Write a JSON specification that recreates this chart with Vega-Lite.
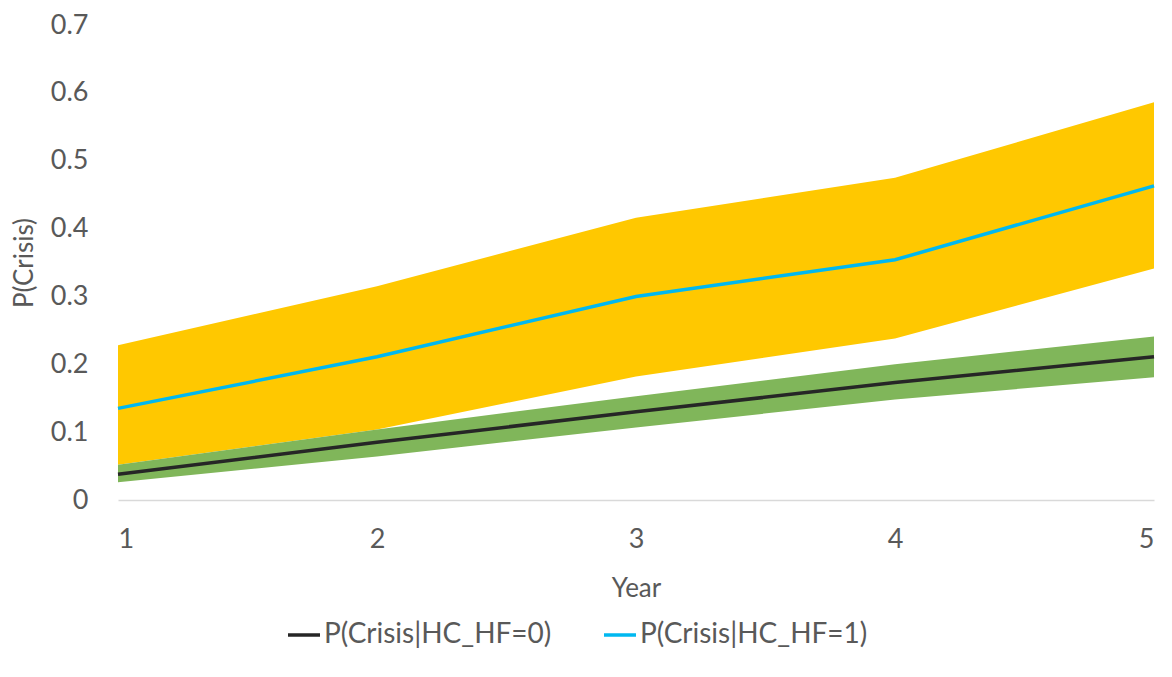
{
  "$schema": "https://vega.github.io/schema/vega-lite/v6.json",
  "width": 1036,
  "height": 475,
  "autosize": "none",
  "padding": {"left": 118, "top": 25, "right": 18, "bottom": 177},
  "background": "white",
  "config": {
    "view": {"stroke": null},
    "font": "Lato",
    "axis": {"labelFont": "Lato", "titleFont": "Lato", "labelColor": "#595959", "titleColor": "#595959", "labelFontSize": 27, "titleFontSize": 26, "titleFontWeight": "normal", "grid": false, "ticks": false},
    "legend": {"labelFont": "Lato", "labelFontSize": 28, "labelColor": "#595959", "labelLimit": 0}
  },
  "data": {
    "values": [
      {"year": 1, "series": "P(Crisis|HC_HF=0)", "mean": 0.038, "lo": 0.026, "hi": 0.052},
      {"year": 2, "series": "P(Crisis|HC_HF=0)", "mean": 0.085, "lo": 0.064, "hi": 0.104},
      {"year": 3, "series": "P(Crisis|HC_HF=0)", "mean": 0.130, "lo": 0.107, "hi": 0.153},
      {"year": 4, "series": "P(Crisis|HC_HF=0)", "mean": 0.173, "lo": 0.148, "hi": 0.200},
      {"year": 5, "series": "P(Crisis|HC_HF=0)", "mean": 0.211, "lo": 0.181, "hi": 0.241},
      {"year": 1, "series": "P(Crisis|HC_HF=1)", "mean": 0.135, "lo": 0.052, "hi": 0.228},
      {"year": 2, "series": "P(Crisis|HC_HF=1)", "mean": 0.211, "lo": 0.104, "hi": 0.315},
      {"year": 3, "series": "P(Crisis|HC_HF=1)", "mean": 0.300, "lo": 0.182, "hi": 0.416},
      {"year": 4, "series": "P(Crisis|HC_HF=1)", "mean": 0.354, "lo": 0.238, "hi": 0.475},
      {"year": 5, "series": "P(Crisis|HC_HF=1)", "mean": 0.463, "lo": 0.341, "hi": 0.586}
    ]
  },
  "encoding": {
    "x": {"field": "year", "type": "quantitative", "scale": {"domain": [1, 5], "nice": false}, "axis": {"title": "Year", "values": [1, 2, 3, 4, 5], "format": "d", "domainColor": "#D9D9D9", "domainWidth": 1.5, "labelPadding": 26, "titlePadding": 23}}
  },
  "layer": [
    {
      "transform": [{"filter": "datum.series === 'P(Crisis|HC_HF=1)'"}],
      "mark": {"type": "area", "color": "#FFC800", "opacity": 1},
      "encoding": {
        "y": {"field": "lo", "type": "quantitative", "scale": {"domain": [0, 0.7], "nice": false}, "axis": {"title": "P(Crisis)", "values": [0, 0.1, 0.2, 0.3, 0.4, 0.5, 0.6, 0.7], "format": ".1~f", "domain": false, "labelPadding": 30, "titlePadding": 13}},
        "y2": {"field": "hi"}
      }
    },
    {
      "transform": [{"filter": "datum.series === 'P(Crisis|HC_HF=0)'"}],
      "mark": {"type": "area", "color": "#80B65A", "opacity": 1},
      "encoding": {
        "y": {"field": "lo", "type": "quantitative"},
        "y2": {"field": "hi"}
      }
    },
    {
      "mark": {"type": "line", "strokeWidth": 3.5},
      "encoding": {
        "y": {"field": "mean", "type": "quantitative"},
        "color": {
          "field": "series", "type": "nominal",
          "scale": {"domain": ["P(Crisis|HC_HF=0)", "P(Crisis|HC_HF=1)"], "range": ["#262626", "#00B8F0"]},
          "legend": {"title": null, "orient": "none", "direction": "horizontal", "legendX": 168, "legendY": 592, "symbolType": "stroke", "symbolStrokeWidth": 3.5, "symbolSize": 1024, "labelOffset": 2, "columnPadding": 45}
        }
      }
    }
  ]
}
